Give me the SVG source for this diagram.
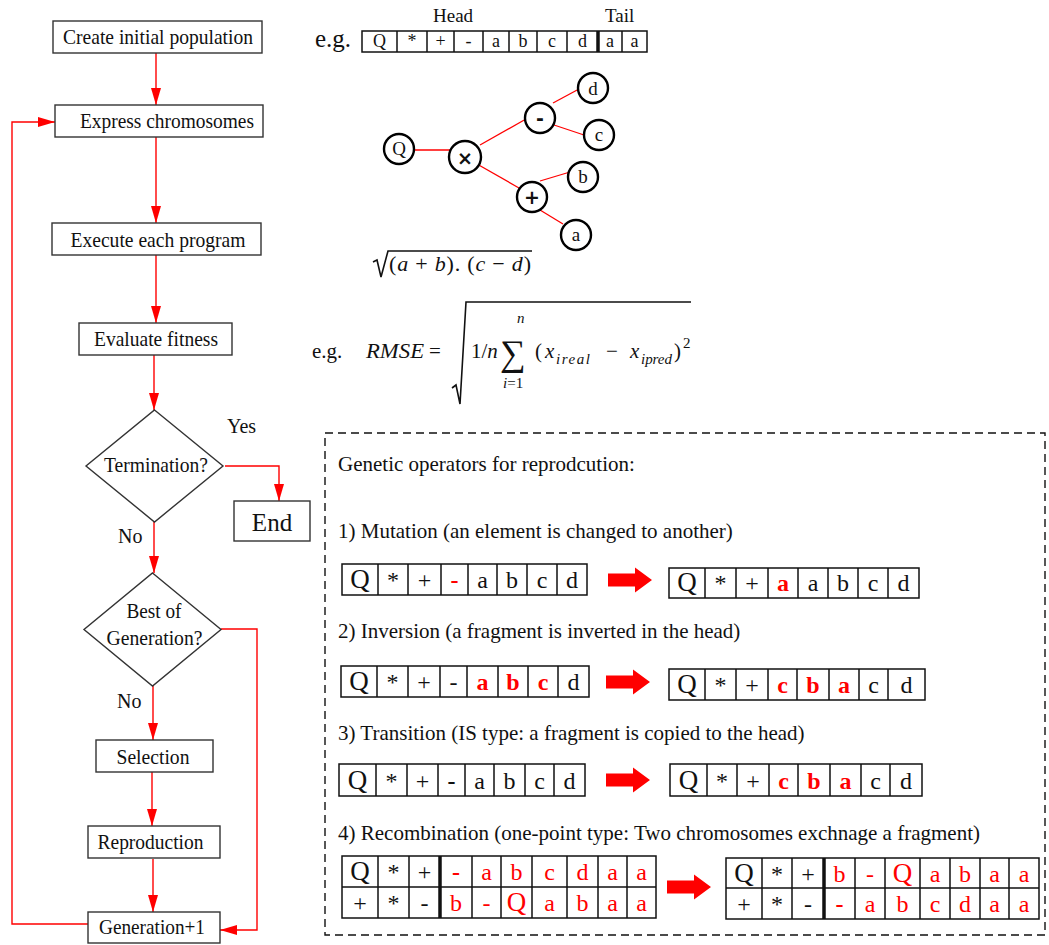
<svg xmlns="http://www.w3.org/2000/svg" width="1049" height="945" viewBox="0 0 1049 945">
  <defs>
    <style>
      text { font-family: "Liberation Serif", "Times New Roman", serif; fill: #111; }
      .box { fill: #fff; stroke: #333; stroke-width: 1.4; }
      .lbl { font-size: 21px; text-anchor: middle; }
      .plain { font-size: 20px; }
      .op { font-size: 21px; }
      .conn { fill: none; stroke: #ff0000; stroke-width: 1.4; }
      .cell { fill: #fff; stroke: #111; stroke-width: 1.5; }
      .sep { stroke: #111; stroke-width: 1.5; }
      .thick { stroke: #111; stroke-width: 3.5; }
      .g { font-size: 24px; text-anchor: middle; }
      .gs { font-size: 18px; text-anchor: middle; }
      .r { fill: #ff0000; }
      .rb { fill: #ff0000; font-weight: bold; }
      .bk { font-weight: bold; }
      .q { font-size: 27px; }
      .edge { stroke: #ff0000; stroke-width: 1.3; }
      .nd { fill: #fff; stroke: #000; stroke-width: 2.4; }
      .nt { font-size: 19px; text-anchor: middle; }
      .sym { font-family: "DejaVu Sans", sans-serif; font-weight: bold; }
      .mi { font-style: italic; }
      .blk { fill: #ff0000; }
    </style>
    <marker id="ah" markerWidth="17" markerHeight="10" refX="17" refY="5" orient="auto" markerUnits="userSpaceOnUse">
      <path d="M0,0 L17,5 L0,10 z" fill="#ff0000"/>
    </marker>
    <path id="bigArrow" d="M0,-6.5 H27 V-12.5 L44,0 L27,12.5 V6.5 H0 Z"/>
  </defs>

  <rect width="1049" height="945" fill="#fff"/>

  <!-- flowchart connectors -->
  <g id="connectors">
    <path class="conn" d="M156,53 V105" marker-end="url(#ah)"/>
    <path class="conn" d="M156,137 V223" marker-end="url(#ah)"/>
    <path class="conn" d="M156,255 V323" marker-end="url(#ah)"/>
    <path class="conn" d="M154,355 V410" marker-end="url(#ah)"/>
    <path class="conn" d="M225,466 H279 V501" marker-end="url(#ah)"/>
    <path class="conn" d="M154,522 V573" marker-end="url(#ah)"/>
    <path class="conn" d="M153,686 V740" marker-end="url(#ah)"/>
    <path class="conn" d="M221,629 H257 V930 H220" marker-end="url(#ah)"/>
    <path class="conn" d="M152,772 V826" marker-end="url(#ah)"/>
    <path class="conn" d="M153,859 V912" marker-end="url(#ah)"/>
    <path class="conn" d="M88,924 H12 V122 H55" marker-end="url(#ah)"/>
  </g>

  <!-- flowchart nodes -->
  <g id="create">
    <rect class="box" x="53" y="21" width="209" height="32"/>
    <text class="lbl" x="158" y="44" textLength="190" lengthAdjust="spacingAndGlyphs">Create initial population</text>
  </g>
  <g id="express">
    <rect class="box" x="55" y="105" width="208" height="32"/>
    <text class="lbl" x="167" y="128" textLength="174" lengthAdjust="spacingAndGlyphs">Express chromosomes</text>
  </g>
  <g id="execute">
    <rect class="box" x="52" y="223" width="209" height="32"/>
    <text class="lbl" x="158" y="247" textLength="175" lengthAdjust="spacingAndGlyphs">Execute each program</text>
  </g>
  <g id="evaluate">
    <rect class="box" x="79" y="323" width="153" height="32"/>
    <text class="lbl" x="156" y="346" textLength="124" lengthAdjust="spacingAndGlyphs">Evaluate fitness</text>
  </g>
  <g id="termination">
    <polygon class="box" points="154.5,410 223,466 154.5,522 86,466"/>
    <text class="lbl" x="156" y="472" textLength="104" lengthAdjust="spacingAndGlyphs">Termination?</text>
  </g>
  <text class="plain" x="227" y="433">Yes</text>
  <text class="plain" x="118" y="543">No</text>
  <g id="end">
    <rect class="box" x="234" y="501" width="76" height="40"/>
    <text x="272" y="531" font-size="25" text-anchor="middle">End</text>
  </g>
  <g id="best">
    <polygon class="box" points="152.5,573 221,629.5 152.5,686 84,629.5"/>
    <text class="lbl" x="154" y="618" textLength="55" lengthAdjust="spacingAndGlyphs">Best of</text>
    <text class="lbl" x="154.5" y="645" textLength="96" lengthAdjust="spacingAndGlyphs">Generation?</text>
  </g>
  <text class="plain" x="117" y="708">No</text>
  <g id="selection">
    <rect class="box" x="96" y="740" width="117" height="32"/>
    <text class="lbl" x="153" y="764" textLength="73" lengthAdjust="spacingAndGlyphs">Selection</text>
  </g>
  <g id="reproduction">
    <rect class="box" x="88" y="826" width="132" height="32"/>
    <text class="lbl" x="150.5" y="849" textLength="106" lengthAdjust="spacingAndGlyphs">Reproduction</text>
  </g>
  <g id="generation">
    <rect class="box" x="88" y="912" width="132" height="31"/>
    <text class="lbl" x="152" y="934" textLength="106" lengthAdjust="spacingAndGlyphs">Generation+1</text>
  </g>

  <!-- example chromosome with head and tail -->
  <g id="chromosome">
    <text x="315" y="47" font-size="25">e.g.</text>
    <text x="433" y="22" font-size="19">Head</text>
    <text x="605" y="22" font-size="19">Tail</text>
    <rect class="cell" x="362" y="31" width="285" height="21"/>
    <path class="sep" d="M397,31V52M427,31V52M454,31V52M483,31V52M509,31V52M537,31V52M567,31V52M622,31V52"/>
    <path class="thick" d="M598,31V52"/>
    <g class="gs">
      <text x="379.5" y="47">Q</text><text x="412" y="47">*</text><text x="440.5" y="47">+</text><text x="468.5" y="47">-</text>
      <text x="496" y="47">a</text><text x="523" y="47">b</text><text x="552" y="47">c</text><text x="582.5" y="47">d</text>
      <text x="610" y="47">a</text><text x="634.5" y="47">a</text>
    </g>
  </g>

  <!-- expression tree -->
  <g id="tree-edges">
    <line class="edge" x1="414" y1="150" x2="451" y2="150"/>
    <line class="edge" x1="480" y1="145" x2="526" y2="119"/>
    <line class="edge" x1="553" y1="103" x2="579" y2="89"/>
    <line class="edge" x1="554" y1="125" x2="584" y2="135"/>
    <line class="edge" x1="477" y1="164" x2="519" y2="188"/>
    <line class="edge" x1="540" y1="181" x2="570" y2="172"/>
    <line class="edge" x1="540" y1="210" x2="563" y2="224"/>
  </g>
  <g id="node-Q"><circle class="nd" cx="399" cy="149" r="15"/><text class="nt" x="399" y="155" font-size="17">Q</text></g>
  <g id="node-mul"><circle class="nd" cx="465" cy="157" r="16"/><text class="nt sym" x="465" y="165" font-size="22">×</text></g>
  <g id="node-minus"><circle class="nd" cx="540" cy="118" r="15"/><text class="nt sym" x="540" y="125" font-size="20">-</text></g>
  <g id="node-d"><circle class="nd" cx="593" cy="88" r="15"/><text class="nt" x="593" y="95">d</text></g>
  <g id="node-c"><circle class="nd" cx="599" cy="135" r="15"/><text class="nt" x="599" y="141">c</text></g>
  <g id="node-plus"><circle class="nd" cx="532" cy="197" r="15"/><text class="nt sym" x="532" y="204" font-size="19">+</text></g>
  <g id="node-b"><circle class="nd" cx="583" cy="177" r="15"/><text class="nt" x="583" y="183">b</text></g>
  <g id="node-a"><circle class="nd" cx="576" cy="235" r="15"/><text class="nt" x="576" y="241">a</text></g>

  <!-- expression formula -->
  <g id="expr">
    <path d="M373,262 L377,260 L381,277 L388,251 H532" fill="none" stroke="#111" stroke-width="1.6"/>
    <text x="389" y="271" font-size="22" textLength="142" lengthAdjust="spacing">(<tspan class="mi">a</tspan> + <tspan class="mi">b</tspan>). (<tspan class="mi">c</tspan> − <tspan class="mi">d</tspan>)</text>
  </g>

  <!-- RMSE formula -->
  <g id="rmse">
    <text x="312" y="358" font-size="21">e.g.</text>
    <text x="366" y="358" font-size="21" class="mi" textLength="58" lengthAdjust="spacingAndGlyphs">RMSE</text>
    <text x="429" y="358" font-size="21">=</text>
    <path d="M452,388 L456,385 L460,404 L466,302 H691" fill="none" stroke="#111" stroke-width="1.6"/>
    <text x="471" y="358" font-size="21">1/<tspan class="mi">n</tspan></text>
    <text x="500" y="365" font-size="36">∑</text>
    <text x="517" y="323" font-size="15" class="mi">n</text>
    <text x="503" y="388" font-size="15"><tspan class="mi">i</tspan>=1</text>
    <text x="535" y="358" font-size="21">(</text>
    <text x="545" y="358" font-size="21" class="mi">x</text>
    <text x="556" y="364" font-size="15" class="mi" textLength="34" lengthAdjust="spacing">ireal</text>
    <text x="606" y="358" font-size="21">−</text>
    <text x="630" y="358" font-size="21" class="mi">x</text>
    <text x="641" y="364" font-size="15" class="mi" textLength="31" lengthAdjust="spacing">ipred</text>
    <text x="674" y="358" font-size="21">)</text>
    <text x="683" y="348" font-size="15">2</text>
  </g>

  <!-- genetic operators panel -->
  <rect x="325" y="433" width="720" height="502" fill="none" stroke="#111" stroke-width="1.4" stroke-dasharray="8,5"/>
  <text class="op" x="338" y="471">Genetic operators for reprodcution:</text>
  <text class="op" x="338" y="538">1) Mutation (an element is changed to another)</text>
  <text class="op" x="338" y="638">2) Inversion (a fragment is inverted in the head)</text>
  <text class="op" x="338" y="740">3) Transition (IS type: a fragment is copied to the head)</text>
  <text class="op" x="338" y="840">4) Recombination (one-point type: Two chromosomes exchnage a fragment)</text>

  <!-- 1) mutation -->
  <g id="mut-before">
    <rect class="cell" x="342" y="564" width="245" height="31"/>
    <path class="sep" d="M378,564V595M408,564V595M441,564V595M468,564V595M497,564V595M527,564V595M557,564V595"/>
    <g class="g">
      <text class="q" x="360" y="588">Q</text><text x="393" y="588">*</text><text x="424.5" y="588">+</text><text class="rb" x="454.5" y="588">-</text>
      <text x="482.5" y="588">a</text><text x="512" y="588">b</text><text x="542" y="588">c</text><text x="572" y="588">d</text>
    </g>
  </g>
  <use href="#bigArrow" class="blk" x="608" y="580"/>
  <g id="mut-after">
    <rect class="cell" x="669" y="568" width="250" height="30"/>
    <path class="sep" d="M705,568V598M736,568V598M768,568V598M798,568V598M828,568V598M858,568V598M888,568V598"/>
    <g class="g">
      <text class="q" x="687" y="591">Q</text><text x="720.5" y="591">*</text><text x="752" y="591">+</text><text class="rb" x="783" y="591">a</text>
      <text x="813" y="591">a</text><text x="843" y="591">b</text><text x="873" y="591">c</text><text x="903.5" y="591">d</text>
    </g>
  </g>

  <!-- 2) inversion -->
  <g id="inv-before">
    <rect class="cell" x="341" y="666" width="248" height="31"/>
    <path class="sep" d="M377,666V697M408,666V697M440,666V697M467,666V697M498,666V697M528,666V697M558,666V697"/>
    <g class="g">
      <text class="q" x="359" y="690">Q</text><text x="392.5" y="690">*</text><text x="424" y="690">+</text><text x="453.5" y="690">-</text>
      <text class="rb" x="482.5" y="690">a</text><text class="rb" x="513" y="690">b</text><text class="rb" x="543" y="690">c</text><text x="573.5" y="690">d</text>
    </g>
  </g>
  <use href="#bigArrow" class="blk" x="606" y="682"/>
  <g id="inv-after">
    <rect class="cell" x="669" y="669" width="256" height="31"/>
    <path class="sep" d="M705,669V700M736,669V700M768,669V700M797,669V700M829,669V700M859,669V700M888,669V700"/>
    <g class="g">
      <text class="q" x="687" y="693">Q</text><text x="720.5" y="693">*</text><text x="752" y="693">+</text><text class="rb" x="782.5" y="693">c</text>
      <text class="rb" x="813" y="693">b</text><text class="rb" x="844" y="693">a</text><text x="873.5" y="693">c</text><text x="906.5" y="693">d</text>
    </g>
  </g>

  <!-- 3) transition -->
  <g id="tra-before">
    <rect class="cell" x="339" y="764" width="246" height="32"/>
    <path class="sep" d="M376,764V796M407,764V796M438,764V796M465,764V796M494,764V796M525,764V796M554,764V796"/>
    <g class="g">
      <text class="q" x="357.5" y="789">Q</text><text x="391.5" y="789">*</text><text x="422.5" y="789">+</text><text class="bk" x="451.5" y="789">-</text>
      <text x="479.5" y="789">a</text><text x="509.5" y="789">b</text><text x="539.5" y="789">c</text><text x="569.5" y="789">d</text>
    </g>
  </g>
  <use href="#bigArrow" class="blk" x="606" y="780"/>
  <g id="tra-after">
    <rect class="cell" x="670" y="764" width="252" height="32"/>
    <path class="sep" d="M707,764V796M737,764V796M769,764V796M798,764V796M830,764V796M861,764V796M890,764V796"/>
    <g class="g">
      <text class="q" x="688.5" y="789">Q</text><text x="722" y="789">*</text><text x="753" y="789">+</text><text class="rb" x="783.5" y="789">c</text>
      <text class="rb" x="814" y="789">b</text><text class="rb" x="845.5" y="789">a</text><text x="875.5" y="789">c</text><text x="906" y="789">d</text>
    </g>
  </g>

  <!-- 4) recombination -->
  <g id="rec-before">
    <rect class="cell" x="342" y="856" width="314" height="62"/>
    <path class="sep" d="M342,887H656M378,856V918M409,856V918M472,856V918M501,856V918M532,856V918M567,856V918M598,856V918M627,856V918"/>
    <path class="thick" d="M440,856V918"/>
    <g class="g">
      <text class="q" x="360" y="880">Q</text><text x="393.5" y="880">*</text><text x="424.5" y="880">+</text>
      <text class="rb" x="456" y="880">-</text><text class="r" x="486.5" y="880">a</text><text class="r" x="516.5" y="880">b</text><text class="r" x="549.5" y="880">c</text>
      <text class="r" x="582.5" y="880">d</text><text class="r" x="612.5" y="880">a</text><text class="r" x="641.5" y="880">a</text>
      <text x="360" y="911">+</text><text x="393.5" y="911">*</text><text x="424.5" y="911">-</text>
      <text class="r" x="456" y="911">b</text><text class="r" x="486.5" y="911">-</text><text class="r q" x="516.5" y="911">Q</text>
      <text class="r" x="549.5" y="911">a</text><text class="r" x="582.5" y="911">b</text><text class="r" x="612.5" y="911">a</text><text class="r" x="641.5" y="911">a</text>
    </g>
  </g>
  <use href="#bigArrow" class="blk" x="667" y="887"/>
  <g id="rec-after">
    <rect class="cell" x="726" y="858" width="313" height="61"/>
    <path class="sep" d="M726,888H1039M762,858V919M792,858V919M855,858V919M885,858V919M920,858V919M950,858V919M980,858V919M1009,858V919"/>
    <path class="thick" d="M824,858V919"/>
    <g class="g">
      <text class="q" x="744" y="882">Q</text><text x="777" y="882">*</text><text x="808" y="882">+</text>
      <text class="r" x="839.5" y="882">b</text><text class="r" x="870" y="882">-</text><text class="r q" x="902.5" y="882">Q</text>
      <text class="r" x="935" y="882">a</text><text class="r" x="965" y="882">b</text><text class="r" x="994.5" y="882">a</text><text class="r" x="1024" y="882">a</text>
      <text x="744" y="912">+</text><text x="777" y="912">*</text><text x="808" y="912">-</text>
      <text class="rb" x="839.5" y="912">-</text><text class="r" x="870" y="912">a</text><text class="r" x="902.5" y="912">b</text>
      <text class="r" x="935" y="912">c</text><text class="r" x="965" y="912">d</text><text class="r" x="994.5" y="912">a</text><text class="r" x="1024" y="912">a</text>
    </g>
  </g>
</svg>
